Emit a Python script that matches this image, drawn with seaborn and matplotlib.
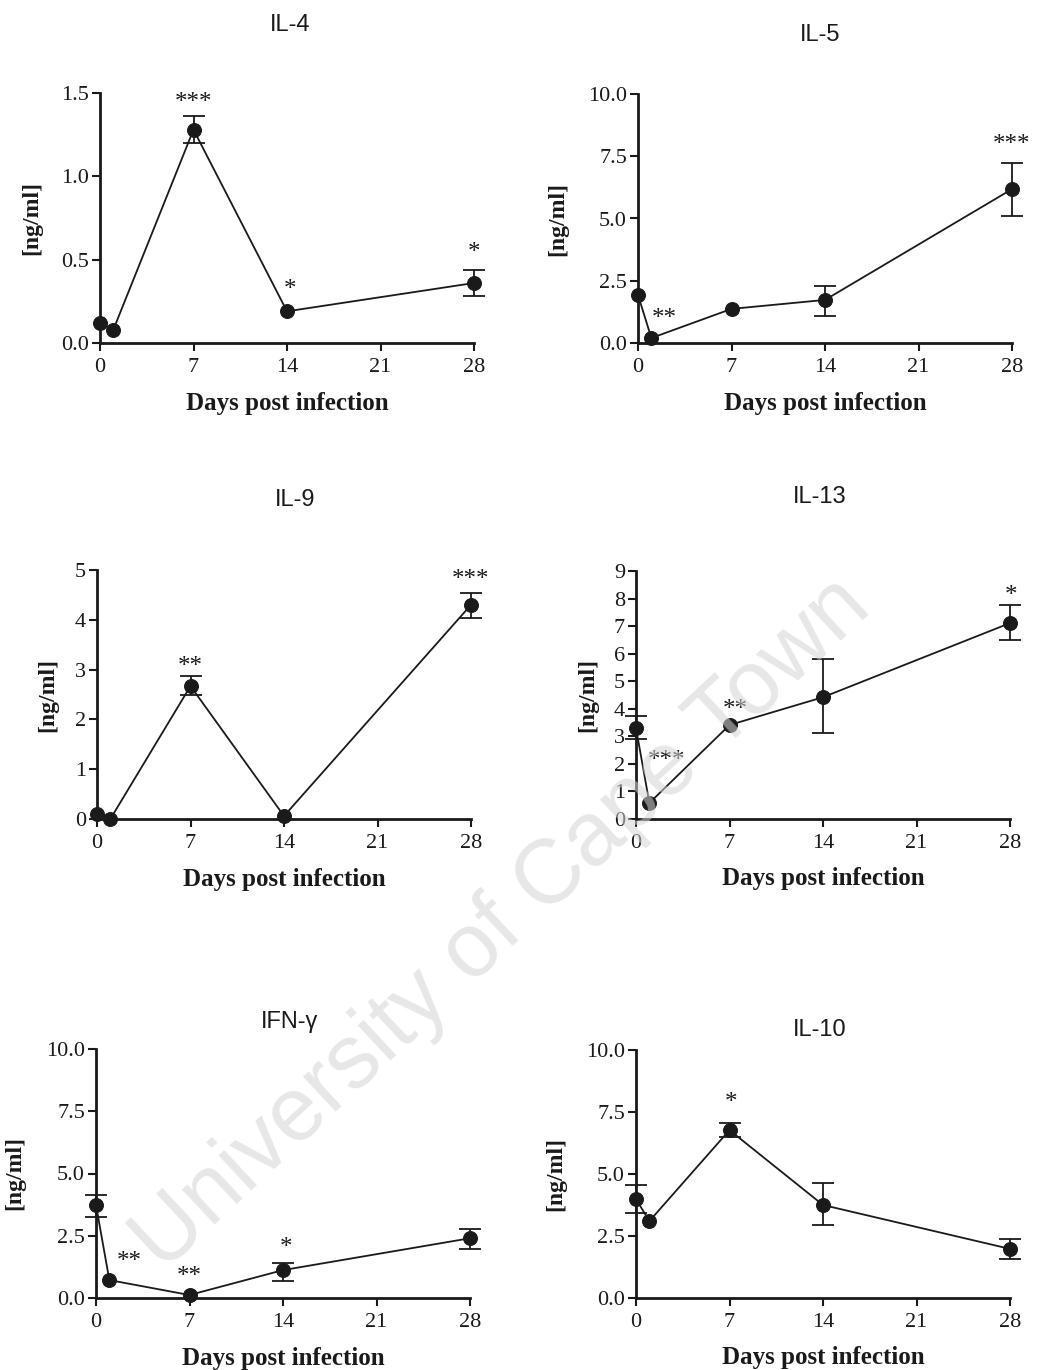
import matplotlib
matplotlib.use("Agg")
import matplotlib.pyplot as plt
import seaborn as sns
import pandas as pd
import numpy as np

# sampling days (day 0 = naive, day 1 ...)
days = [0, 1, 7, 14, 28]

# cytokine means and error bar ends, ng/ml
il4_mean = [0.12, 0.08, 1.28, 0.19, 0.36]
il4_low = [0.12, 0.08, 1.20, 0.19, 0.28]
il4_high = [0.12, 0.08, 1.36, 0.19, 0.44]

il5_mean = [1.93, 0.20, 1.37, 1.73, 6.18]
il5_low = [1.93, 0.20, 1.37, 1.10, 5.10]
il5_high = [1.93, 0.20, 1.37, 2.29, 7.23]

il9_mean = [0.10, 0.00, 2.67, 0.06, 4.30]
il9_low = [0.10, 0.00, 2.49, 0.06, 4.04]
il9_high = [0.10, 0.00, 2.87, 0.06, 4.54]

il13_mean = [3.30, 0.58, 3.41, 4.42, 7.11]
il13_low = [2.90, 0.58, 3.41, 3.12, 6.50]
il13_high = [3.74, 0.58, 3.41, 5.80, 7.76]

ifng_mean = [3.73, 0.72, 0.12, 1.12, 2.40]
ifng_low = [3.27, 0.72, 0.12, 0.70, 1.95]
ifng_high = [4.14, 0.72, 0.12, 1.42, 2.77]

il10_mean = [3.99, 3.10, 6.77, 3.75, 1.98]
il10_low = [3.43, 3.10, 6.50, 2.94, 1.57]
il10_high = [4.56, 3.10, 7.06, 4.64, 2.38]

# significance marks: (text, day, ng/ml)
il4_stars = [("***", 7, 1.44), ("*", 14.2, 0.32), ("*", 28, 0.54)]
il5_stars = [("**", 2.0, 0.95), ("***", 28, 7.95)]
il9_stars = [("**", 7, 3.05), ("***", 28, 4.8)]
il13_stars = [("***", 2.3, 2.1), ("**", 7.4, 3.95), ("*", 28.1, 8.1)]
ifng_stars = [("**", 2.5, 1.45), ("**", 7.0, 0.85), ("*", 14.2, 2.0)]
il10_stars = [("*", 7.1, 7.85)]

titles = ["IL-4", "IL-5", "IL-9", "IL-13", "IFN-\u03b3", "IL-10"]
y_ticks = [[0.0, 0.5, 1.0, 1.5],
           [0.0, 2.5, 5.0, 7.5, 10.0],
           [0, 1, 2, 3, 4, 5],
           [0, 1, 2, 3, 4, 5, 6, 7, 8, 9],
           [0.0, 2.5, 5.0, 7.5, 10.0],
           [0.0, 2.5, 5.0, 7.5, 10.0]]
y_fmt = ["{:.1f}", "{:.1f}", "{:.0f}", "{:.0f}", "{:.1f}", "{:.1f}"]

series = [
    (il4_mean, il4_low, il4_high, il4_stars),
    (il5_mean, il5_low, il5_high, il5_stars),
    (il9_mean, il9_low, il9_high, il9_stars),
    (il13_mean, il13_low, il13_high, il13_stars),
    (ifng_mean, ifng_low, ifng_high, ifng_stars),
    (il10_mean, il10_low, il10_high, il10_stars),
]

# layout (pixels of a 1037x1370 canvas)
W, H = 1037, 1370
axes_px = [(100, 93, 343), (638, 94, 343),
           (97, 570, 819), (636, 571, 819),
           (96, 1049, 1298), (636, 1050, 1298)]
axis_len = 374
title_px = [(290, 25), (820, 35), (295, 500), (820, 497), (290, 1022), (820, 1030)]
ylabel_x = [-0.155, -0.187, -0.104, -0.102, -0.19, -0.187]

sns.set_style("ticks")
plt.rcParams['font.family'] = ['Liberation Serif', 'DejaVu Serif']

INK = "#1a1a1a"

fig = plt.figure(figsize=(W / 100, H / 100), dpi=100)


def draw_panel(ax, mean, low, high, stars, ticks, fmt):
    df = pd.DataFrame({"day": days, "value": mean})
    m, lo, hi = np.array(mean), np.array(low), np.array(high)
    has_err = hi > lo
    d = np.array(days)[has_err]
    eb = ax.errorbar(d, m[has_err], yerr=[(m - lo)[has_err], (hi - m)[has_err]],
                     fmt="none", ecolor=INK, elinewidth=1.3, capsize=8,
                     capthick=1.3, zorder=3)
    for art in eb.get_children():
        art.set_clip_on(False)
    sns.lineplot(data=df, x="day", y="value", ax=ax, color=INK, linewidth=1.3,
                 marker="o", markersize=10, markeredgecolor=INK,
                 clip_on=False, zorder=4)

    for txt, dd, v in stars:
        ax.text(dd, v, txt, ha="center", va="center", fontsize=18, color=INK)

    ax.set_xlim(0, 28)
    ax.set_ylim(0, ticks[-1])
    ax.set_xticks([0, 7, 14, 21, 28])
    ax.set_yticks(ticks)
    ax.set_yticklabels([fmt.format(t) for t in ticks])
    sns.despine(ax=ax)
    for s in ["left", "bottom"]:
        ax.spines[s].set_linewidth(2)
        ax.spines[s].set_color(INK)
    ax.tick_params(axis="both", width=1.5, length=6, labelsize=16,
                   colors=INK, pad=2)
    ax.tick_params(axis="x", pad=5)
    ax.set_xlabel("Days post infection", fontsize=18, fontweight="bold", color=INK)
    ax.set_ylabel("[ng/ml]", fontsize=17, fontweight="bold", color=INK)
    ax.xaxis.set_label_coords(0.5, -0.195)
    ax.patch.set_alpha(0)


for i, (mean, low, high, stars) in enumerate(series):
    left, top, bottom = axes_px[i]
    rect = [left / W, 1 - bottom / H, axis_len / W, (bottom - top) / H]
    ax = fig.add_axes(rect)
    draw_panel(ax, mean, low, high, stars, y_ticks[i], y_fmt[i])
    ax.yaxis.set_label_coords(ylabel_x[i], 0.5)
    tx, ty = title_px[i]
    fig.text(tx / W, 1 - ty / H, titles[i], ha="center", va="center",
             fontsize=17, color=INK, family=['Liberation Sans', 'DejaVu Sans'])

# watermark
fig.text(0.484, 0.325, "University of Cape Town", rotation=43,
         rotation_mode="anchor", ha="center", va="center", fontsize=65,
         color="#d4d4d4", alpha=0.55, family=['Liberation Sans', 'DejaVu Sans'],
         zorder=10)

fig.savefig("out.png", dpi=100, facecolor="white")
